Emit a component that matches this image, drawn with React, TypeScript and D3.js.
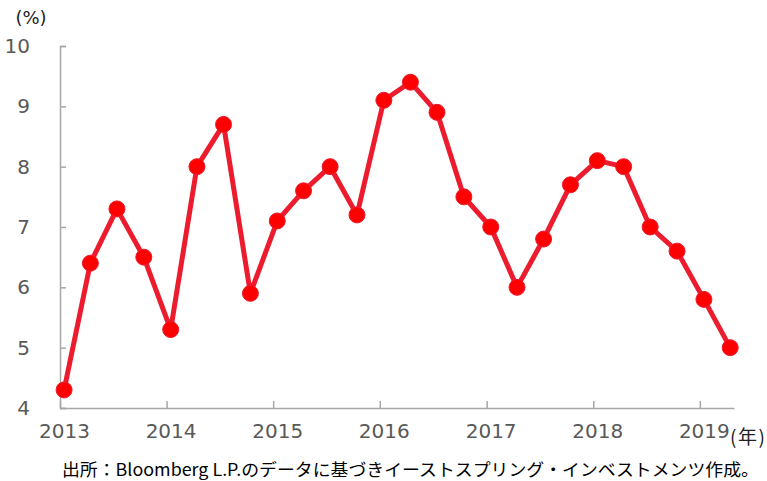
import React, { useEffect, useRef } from 'react';
import * as d3 from 'd3';

// quarterly observations (mid-month dates)
const dates = [
  '2013-01-15', '2013-04-15', '2013-07-15', '2013-10-15',
  '2014-01-15', '2014-04-15', '2014-07-15', '2014-10-15',
  '2015-01-15', '2015-04-15', '2015-07-15', '2015-10-15',
  '2016-01-15', '2016-04-15', '2016-07-15', '2016-10-15',
  '2017-01-15', '2017-04-15', '2017-07-15', '2017-10-15',
  '2018-01-15', '2018-04-15', '2018-07-15', '2018-10-15',
  '2019-01-15', '2019-04-15',
];
const values = [
  4.3, 6.4, 7.3, 6.5,
  5.3, 8.0, 8.7, 5.9,
  7.1, 7.6, 8.0, 7.2,
  9.1, 9.4, 8.9, 7.5,
  7.0, 6.0, 6.8, 7.7,
  8.1, 8.0, 7.0, 6.6,
  5.8, 5.0,
];
const yearTicks = ['2013', '2014', '2015', '2016', '2017', '2018', '2019'];
const yTicks = [4, 5, 6, 7, 8, 9, 10];
const yUnit = '(%)';
const xUnit = '(年)';
const source = '出所：Bloomberg L.P.のデータに基づきイーストスプリング・インベストメンツ作成。';

const App = () => {
  const svgRef = useRef<SVGSVGElement>(null);

  useEffect(() => {
    const svg = d3.select(svgRef.current);
    svg.selectAll('*').remove();

    const marginTop = 46;
    const marginLeft = 60;
    const axisBottom = 408;
    const axisRight = 734;
    const axisColor = '#a6a6a6';
    const labelColor = '#595959';
    const font = '"DejaVu Sans", Verdana, sans-serif';

    const parse = d3.utcParse('%Y-%m-%d');
    const data = dates.map((d, i) => ({ date: parse(d)!, value: values[i] }));

    const x = d3.scaleUtc(
      [new Date(Date.UTC(2013, 0, 1)), new Date(Date.UTC(2019, 3, 28))],
      [marginLeft, axisRight]
    );
    const y = d3.scaleLinear([4, 10], [axisBottom, marginTop]);

    // y axis
    svg.append('g')
      .attr('transform', `translate(${marginLeft},0)`)
      .call(d3.axisLeft(y).tickValues(yTicks).tickSize(-6).tickSizeOuter(-6).tickPadding(30).tickFormat(d3.format('d')))
      .call(g => g.select('.domain').attr('stroke', axisColor).attr('stroke-width', 1.5))
      .call(g => g.selectAll('.tick line').attr('stroke', axisColor).attr('stroke-width', 1.5))
      .call(g => g.selectAll('.tick text')
        .attr('fill', labelColor)
        .attr('font-size', 20)
        .attr('font-family', font));

    // x axis
    const tickDates = yearTicks.map(t => new Date(Date.UTC(+t, 0, 1)));
    svg.append('g')
      .attr('transform', `translate(0,${axisBottom})`)
      .call(d3.axisBottom(x).tickValues(tickDates).tickSize(-7).tickSizeOuter(0).tickPadding(16).tickFormat(d3.utcFormat('%Y')))
      .call(g => g.select('.domain').attr('stroke', axisColor).attr('stroke-width', 1.5))
      .call(g => g.selectAll('.tick line').attr('stroke', axisColor).attr('stroke-width', 1.5))
      .call(g => g.selectAll('.tick text')
        .attr('dx', 4)
        .attr('fill', labelColor)
        .attr('font-size', 20)
        .attr('font-family', font));

    // line
    const line = d3.line<{ date: Date; value: number }>()
      .x(d => x(d.date))
      .y(d => y(d.value));

    svg.append('path')
      .attr('fill', 'none')
      .attr('stroke', '#ec1c2e')
      .attr('stroke-width', 5)
      .attr('stroke-linejoin', 'round')
      .attr('d', line(data));

    svg.append('g')
      .selectAll('circle')
      .data(data)
      .join('circle')
      .attr('cx', d => x(d.date))
      .attr('cy', d => y(d.value))
      .attr('r', 8)
      .attr('fill', '#ff0000')
      .attr('stroke', '#ec1c2e')
      .attr('stroke-width', 1);

    // units
    svg.append('text')
      .attr('x', 31)
      .attr('y', 24)
      .attr('text-anchor', 'middle')
      .attr('font-size', 18)
      .attr('font-family', font)
      .attr('fill', '#222')
      .text(yUnit);

    svg.append('text')
      .attr('x', 730)
      .attr('y', 444)
      .attr('font-size', 19)
      .attr('font-family', '"Noto Sans CJK JP", sans-serif')
      .attr('fill', '#222')
      .attr('textLength', 35)
      .attr('lengthAdjust', 'spacing')
      .text(xUnit);

    // source note
    svg.append('text')
      .attr('x', 62)
      .attr('y', 476)
      .attr('font-size', 17)
      .attr('font-family', '"Noto Sans CJK JP", sans-serif')
      .attr('fill', '#000')
      .attr('textLength', 697)
      .attr('lengthAdjust', 'spacingAndGlyphs')
      .text(source);
  }, []);

  return (
    <svg
      ref={svgRef}
      width={767}
      height={481}
      viewBox="0 0 767 481"
      style={{ position: 'absolute', left: 0, top: 0, background: '#fff' }}
    />
  );
};

export default App;
